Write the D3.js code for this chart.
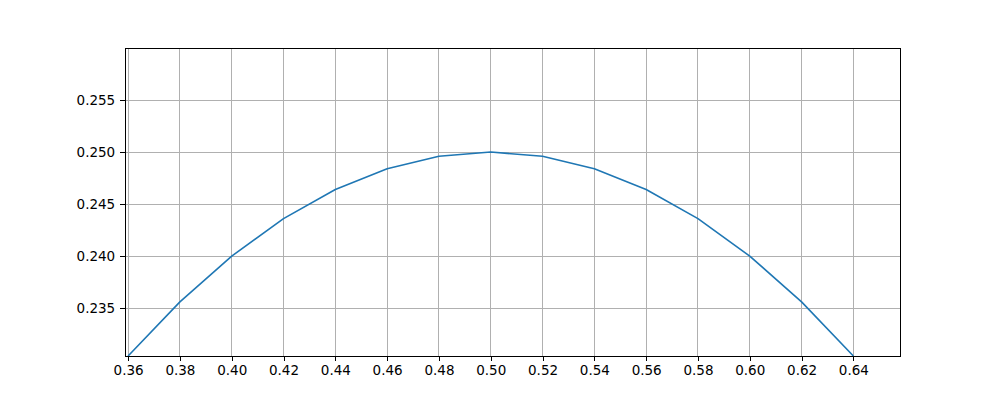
<!DOCTYPE html>
<html>
<head>
<meta charset="utf-8">
<script src="https://cdn.jsdelivr.net/npm/d3@7"></script>
<style>
  body { margin: 0; background: #fff; }
  svg { display: block; font-family: "DejaVu Sans", sans-serif; }
</style>
</head>
<body>
<script>
// data
const xs = [0.36, 0.38, 0.40, 0.42, 0.44, 0.46, 0.48, 0.50, 0.52, 0.54, 0.56, 0.58, 0.60, 0.62, 0.64];
const ys = [0.2304, 0.2356, 0.2400, 0.2436, 0.2464, 0.2484, 0.2496, 0.2500, 0.2496, 0.2484, 0.2464, 0.2436, 0.2400, 0.2356, 0.2304];
const xTicks = [0.36, 0.38, 0.40, 0.42, 0.44, 0.46, 0.48, 0.50, 0.52, 0.54, 0.56, 0.58, 0.60, 0.62, 0.64];
const yTicks = [0.235, 0.240, 0.245, 0.250, 0.255];

const width = 1000, height = 400;
const plotLeft = 125, plotRight = 900, plotTop = 48, plotBottom = 356;

const svg = d3.select("body").append("svg")
    .attr("width", width)
    .attr("height", height);

const x = d3.scaleLinear().domain([0.3588, 0.6580]).range([plotLeft, plotRight]);
const y = d3.scaleLinear().domain([0.2304, 0.2600]).range([plotBottom, plotTop]);

// grid
svg.append("g").attr("shape-rendering", "crispEdges")
    .selectAll("line").data(xTicks).enter().append("line")
    .attr("x1", d => x(d)).attr("x2", d => x(d))
    .attr("y1", plotTop).attr("y2", plotBottom)
    .attr("stroke", "#b0b0b0").attr("stroke-width", 1);
svg.append("g").attr("shape-rendering", "crispEdges")
    .selectAll("line").data(yTicks).enter().append("line")
    .attr("x1", plotLeft).attr("x2", plotRight)
    .attr("y1", d => y(d)).attr("y2", d => y(d))
    .attr("stroke", "#b0b0b0").attr("stroke-width", 1);

// line
const line = d3.line().x((d, i) => x(xs[i])).y(d => y(d));
svg.append("path")
    .datum(ys)
    .attr("fill", "none")
    .attr("stroke", "#1f77b4")
    .attr("stroke-width", 1.6)
    .attr("stroke-linejoin", "round")
    .attr("d", line);

// axes
const xAxis = d3.axisBottom(x).tickValues(xTicks).tickFormat(d3.format(".2f")).tickSize(4.9).tickPadding(4.9);
const yAxis = d3.axisLeft(y).tickValues(yTicks).tickFormat(d3.format(".3f")).tickSize(4.9).tickPadding(4.9);

const gx = svg.append("g").attr("transform", `translate(0,${plotBottom})`).call(xAxis);
const gy = svg.append("g").attr("transform", `translate(${plotLeft},0)`).call(yAxis);
[gx, gy].forEach(g => {
    g.select(".domain").remove();
    g.selectAll("line").attr("stroke", "#000").attr("stroke-width", 1).attr("shape-rendering", "crispEdges");
    g.selectAll("text").attr("fill", "#000").style("font-size", "13.5px").style("font-family", "DejaVu Sans");
});

// frame
svg.append("rect")
    .attr("x", plotLeft).attr("y", plotTop)
    .attr("width", plotRight - plotLeft).attr("height", plotBottom - plotTop)
    .attr("fill", "none").attr("stroke", "#000").attr("stroke-width", 1)
    .attr("shape-rendering", "crispEdges");
</script>
</body>
</html>
